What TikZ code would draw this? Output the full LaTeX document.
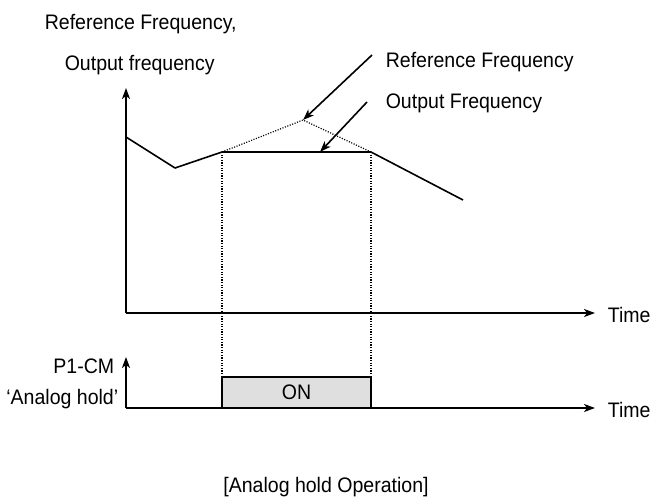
\documentclass[tikz,border=0pt]{standalone}
\usepackage{fontspec}
\setmainfont{Liberation Sans}[FakeStretch=0.93]
\usetikzlibrary{arrows.meta,calc}
\begin{document}
\begin{tikzpicture}[x=1pt, y=-1pt, line join=round, line width=1.6pt,
		lbl/.style={font=\fontsize{21}{24}\selectfont, inner sep=0pt},
		axis/.style={-{Stealth[length=11pt,width=8pt,inset=3pt]}},
		dots/.style={line width=1.2pt, dash pattern=on 1.1pt off 1.5pt}]
		\useasboundingbox (0,0) rectangle (654,498);
		% axes
		\coordinate (O) at (126,313);
		\coordinate (Y) at (126,88);
		\coordinate (X) at (595,313);
		\coordinate (O2) at (126,408);
		\coordinate (Y2) at (126,357);
		\coordinate (X2) at (595,408);
		% curve points
		\coordinate (P0) at (126,137);
		\coordinate (P1) at (175,168);
		\coordinate (P2) at (222,152);
		\coordinate (P3) at (371,152);
		\coordinate (P4) at (463,200);
		\coordinate (R) at (303,120);
		\coordinate (F) at (320,152);
		\coordinate (B1) at (222,377);
		\coordinate (B2) at (371,408);
		\draw[axis] (O)--(Y);
		\draw[axis] (O)--(X);
		\draw[axis] (O2)--(Y2);
		\draw[axis] (O2)--(X2);
		\draw (P0)--(P1)--(P2)--(P3)--(P4);
		\draw[dots] (P2)--(R)--(P3);
		\draw[dots] (P2)--(P2|-B1) (P3)--(P3|-B1);
		\draw[fill=gray!25, line width=1.4pt] (B1) rectangle (B2);
		\node[lbl] (on) at ($(B1)!0.5!(B2)$) {ON};
		% labels
		\node[lbl, anchor=base west] (yl1) at (44,29) {Reference Frequency,};
		\node[lbl, anchor=base west] (yl2) at (64,70) {Output frequency};
		\node[lbl, anchor=base west] (rf) at (385,67) {Reference Frequency};
		\node[lbl, anchor=base west] (of) at (385,108) {Output Frequency};
		\node[lbl, anchor=base west] (t1) at (607,322) {Time};
		\node[lbl, anchor=base west] (t2) at (607,417) {Time};
		\node[lbl, anchor=base east] (p1) at (115,373) {P1-CM};
		\node[lbl, anchor=base east] (ah) at (119,404) {‘Analog hold’};
		\node[lbl, anchor=base] (cap) at (326,492) {[Analog hold Operation]};
		% pointers
		\coordinate (S1) at (372,55);
		\coordinate (S2) at (367,102);
		\draw[axis] (S1)--(R);
		\draw[axis] (S2)--(F);
	\end{tikzpicture}
\end{document}
